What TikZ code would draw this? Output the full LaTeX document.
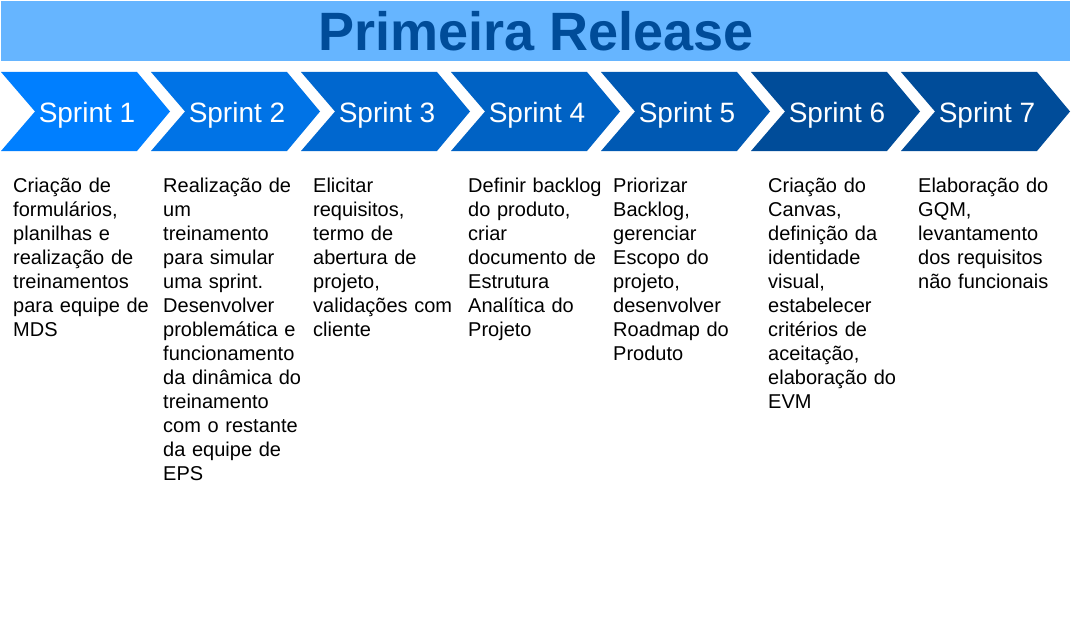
\documentclass[tikz,border=0pt]{standalone}
\usepackage{fontspec}
\setmainfont{Liberation Sans}

\definecolor{bannerblue}{HTML}{66B5FF}
\definecolor{titleblue}{HTML}{004C99}
\definecolor{sp1}{HTML}{007FFF}
\definecolor{sp2}{HTML}{0073E6}
\definecolor{sp3}{HTML}{0067CF}
\definecolor{sp4}{HTML}{0062C4}
\definecolor{sp5}{HTML}{0059B3}
\definecolor{sp6}{HTML}{004C99}
\definecolor{sp7}{HTML}{004C99}

\tikzstyle{banner} = [fill=bannerblue, draw=none, inner sep=0pt, anchor=north west]
\tikzstyle{headline} = [text=titleblue, font=\bfseries\fontsize{54}{60}\selectfont, anchor=base, inner sep=0pt]
\tikzstyle{sprintlabel} = [text=white, font=\fontsize{28}{33}\selectfont, anchor=base, inner sep=0pt]
\tikzstyle{task} = [anchor=base west, text width=150pt, align=left, inner sep=0pt, font=\fontsize{20}{24}\selectfont]

\begin{document}
\begin{tikzpicture}[x=1pt, y=-1pt]
\useasboundingbox (0,0) rectangle (1071,642);
\fill[white] (0,0) rectangle (1071,642);

\node[banner, minimum width=1069pt, minimum height=60pt] (banner) at (1,1) {};
\node[headline] (title) at (536,51) {Primeira Release};

\foreach \i/\col in {1/sp1, 2/sp2, 3/sp3, 4/sp4, 5/sp5, 6/sp6, 7/sp7} {
    \fill[\col] ({1+150*(\i-1)},72) -- ++(136,0) -- ++(33,39.5) -- ++(-33,39.5)
        -- ++(-136,0) -- ++(34,-39.5) -- cycle;
    \node[sprintlabel] (sprint\i) at ({87+150*(\i-1)},122.5) {Sprint \i};
}

\node[task] (task1) at (13,192) {Criação de\\formulários,\\planilhas e\\realização de\\treinamentos\\para equipe de\\MDS};
\node[task] (task2) at (163,192) {Realização de\\um\\treinamento\\para simular\\uma sprint.\\Desenvolver\\problemática e\\funcionamento\\da dinâmica do\\treinamento\\com o restante\\da equipe de\\EPS};
\node[task] (task3) at (313,192) {Elicitar\\requisitos,\\termo de\\abertura de\\projeto,\\validações com\\cliente};
\node[task] (task4) at (468,192) {Definir backlog\\do produto,\\criar\\documento de\\Estrutura\\Analítica do\\Projeto};
\node[task] (task5) at (613,192) {Priorizar\\Backlog,\\gerenciar\\Escopo do\\projeto,\\desenvolver\\Roadmap do\\Produto};
\node[task] (task6) at (768,192) {Criação do\\Canvas,\\definição da\\identidade\\visual,\\estabelecer\\critérios de\\aceitação,\\elaboração do\\EVM};
\node[task] (task7) at (918,192) {Elaboração do\\GQM,\\levantamento\\dos requisitos\\não funcionais};
\end{tikzpicture}
\end{document}
